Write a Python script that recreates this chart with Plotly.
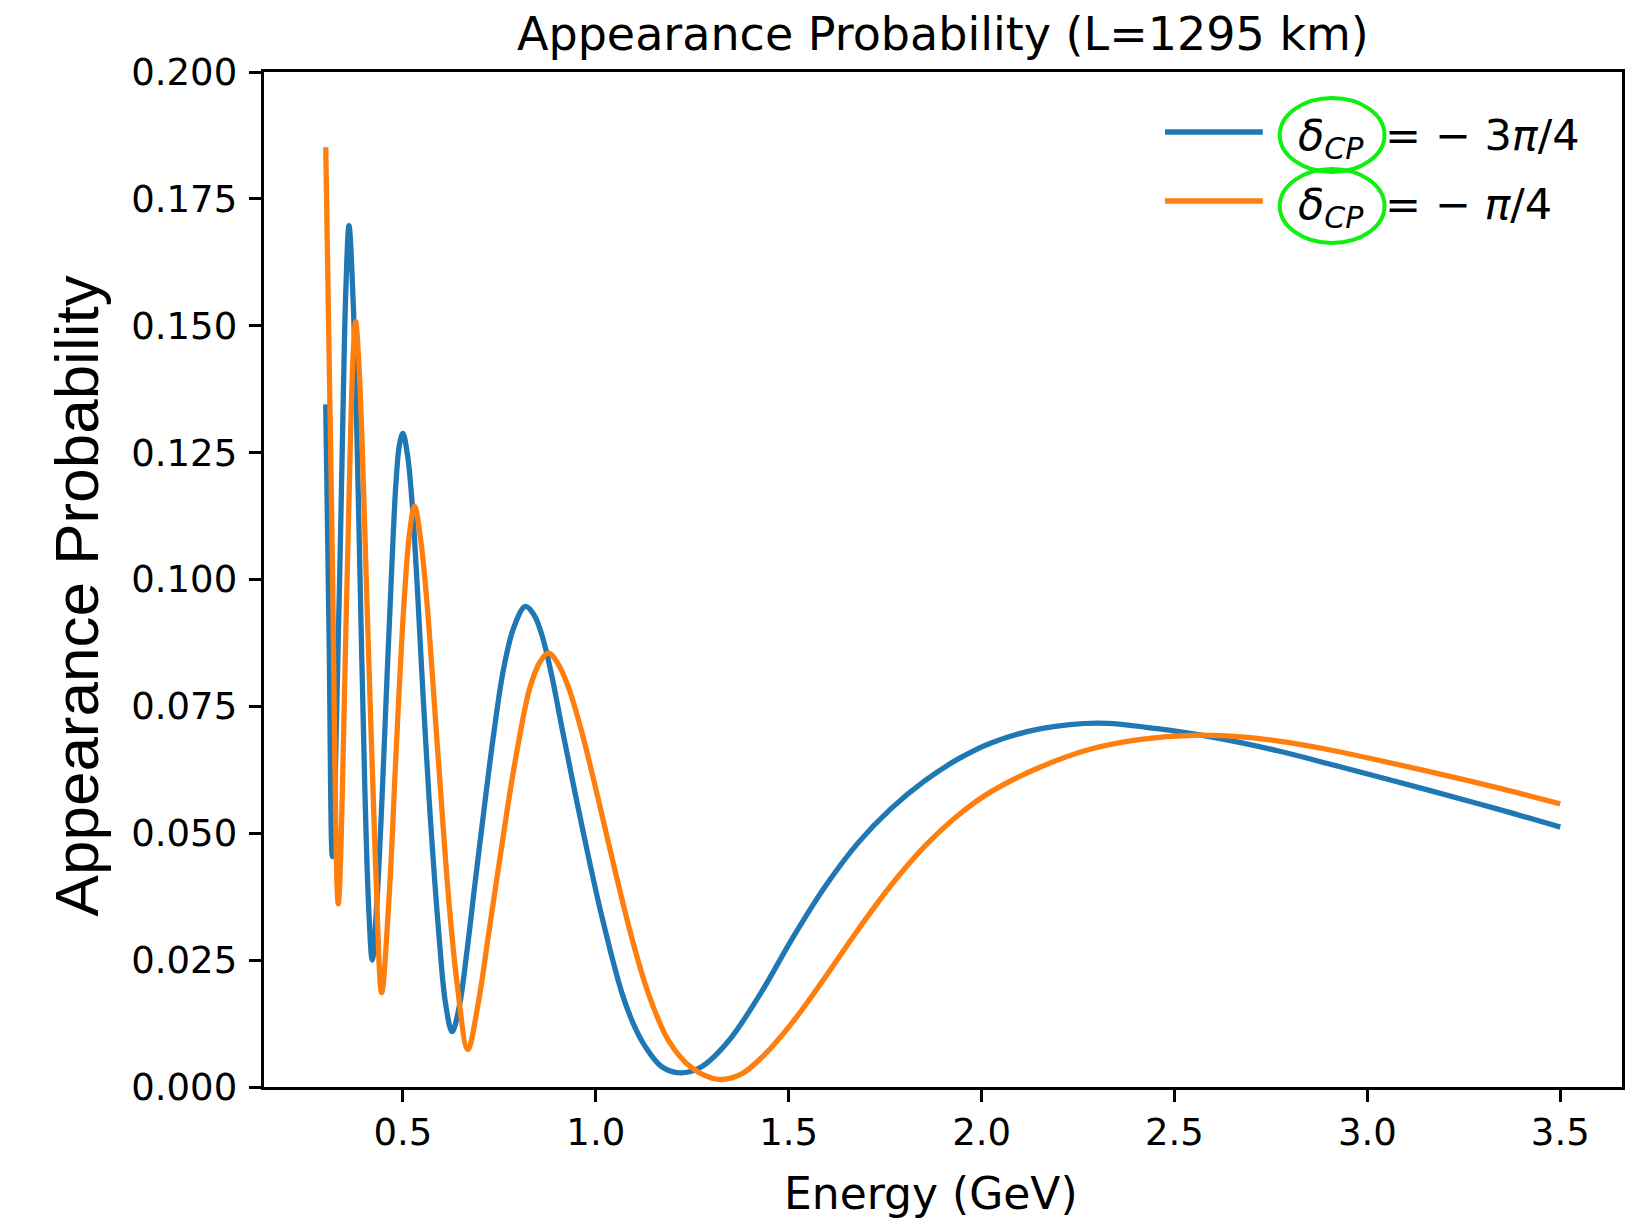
import plotly.graph_objects as go

# ---- data ----
energy_blue = [0.300, 0.3085, 0.317, 0.335, 0.3456, 0.3517, 0.3603, 0.371, 0.381,
               0.391, 0.401, 0.411, 0.4206, 0.433, 0.446, 0.459, 0.471, 0.482, 0.491,
               0.500, 0.512, 0.524, 0.537, 0.551, 0.5673, 0.5931, 0.6105, 0.6276,
               0.6465, 0.6665, 0.686, 0.7052, 0.7354, 0.7613, 0.7872, 0.8174, 0.840,
               0.8605, 0.886, 0.9122, 0.9639, 1.0157, 1.0674, 1.0977, 1.128, 1.171,
               1.2185, 1.2744, 1.3435, 1.43, 1.5073, 1.5936, 1.6798, 1.766, 1.8524,
               1.9386, 2.0247, 2.154, 2.3008, 2.456, 2.6286, 2.77, 2.904, 3.163, 3.336, 3.5]
prob_blue = [0.1345, 0.090, 0.0454, 0.0967, 0.1362, 0.156, 0.1697, 0.155, 0.128,
             0.093, 0.060, 0.036, 0.025, 0.037, 0.057, 0.081, 0.102, 0.119, 0.1265,
             0.1288, 0.1245, 0.1150, 0.0990, 0.0790, 0.0575, 0.0303, 0.0165, 0.0109,
             0.0160, 0.0270, 0.0395, 0.0515, 0.0696, 0.0825, 0.0905, 0.0947, 0.0930,
             0.0890, 0.0810, 0.0708, 0.0515, 0.0336, 0.0186, 0.0124, 0.0080, 0.0040,
             0.0028, 0.0040, 0.0090, 0.0188, 0.0290, 0.0394, 0.0481, 0.0549, 0.0603,
             0.0646, 0.0678, 0.0706, 0.0717, 0.0706, 0.0685, 0.0662, 0.0636, 0.0584, 0.0548, 0.0512]

energy_orange = [0.300, 0.316, 0.3326, 0.3543, 0.3647, 0.371, 0.3776, 0.3845, 0.3931,
                 0.4064, 0.418, 0.4294, 0.4449, 0.4638, 0.483, 0.5026, 0.517, 0.5302,
                 0.545, 0.561, 0.5931, 0.619, 0.6405, 0.6682, 0.6966, 0.7225, 0.7613,
                 0.7816, 0.8019, 0.8162, 0.8304, 0.855, 0.8777, 0.905, 0.9295, 0.9639,
                 1.0071, 1.0503, 1.0933, 1.1365, 1.1882, 1.2485, 1.3176, 1.3779, 1.435,
                 1.5073, 1.5936, 1.6798, 1.766, 1.8524, 1.9386, 2.0247, 2.154, 2.2835,
                 2.4128, 2.551, 2.6716, 2.7665, 2.904, 3.163, 3.336, 3.5]
prob_orange = [0.1852, 0.110, 0.0361, 0.0967, 0.1296, 0.1440, 0.1508, 0.1445, 0.1296,
               0.0967, 0.0690, 0.0434, 0.0186, 0.0368, 0.0670, 0.0950, 0.1090, 0.1145,
               0.1085, 0.0967, 0.0632, 0.0368, 0.0204, 0.0074, 0.0171, 0.0303, 0.0500,
               0.0600, 0.0688, 0.0745, 0.0790, 0.0837, 0.0855, 0.0830, 0.0787, 0.0699,
               0.0565, 0.0425, 0.0294, 0.0184, 0.0092, 0.0038, 0.0015, 0.0026, 0.0062,
               0.0125, 0.0215, 0.0310, 0.0398, 0.0474, 0.0535, 0.0582, 0.0631, 0.0666,
               0.0685, 0.0693, 0.0690, 0.0682, 0.0664, 0.0621, 0.0590, 0.0558]

x_ticks = [0.5, 1.0, 1.5, 2.0, 2.5, 3.0, 3.5]
y_ticks = [0.0, 0.025, 0.05, 0.075, 0.1, 0.125, 0.15, 0.175, 0.2]
series_labels = ["<i>δ</i><sub><i>CP</i></sub>\u2002= − 3<i>π</i>/4",
                 "<i>δ</i><sub><i>CP</i></sub>\u2002= − <i>π</i>/4"]
colors = ["#1f77b4", "#ff7f0e"]

# ---- layout geometry (pixels) ----
W, H = 1634, 1223
L, R, T, B = 264, 1625, 72, 1087


def px_x(px):
    return (px - L) / (R - L)


def px_y(py):
    return (B - py) / (B - T)


fig = go.Figure()
fig.add_trace(go.Scatter(x=energy_blue, y=prob_blue, mode="lines",
                         line=dict(color=colors[0], width=5.3, shape="spline", smoothing=1.0),
                         name="blue", showlegend=False))
fig.add_trace(go.Scatter(x=energy_orange, y=prob_orange, mode="lines",
                         line=dict(color=colors[1], width=5.3, shape="spline", smoothing=1.0),
                         name="orange", showlegend=False))

axis_common = dict(showline=True, linecolor="black", linewidth=2.8, mirror=True,
                   ticks="outside", ticklen=12.5, tickwidth=2.8, tickcolor="black",
                   showgrid=False, zeroline=False,
                   tickfont=dict(family="DejaVu Sans", size=37, color="black"))

fig.update_layout(
    width=W, height=H,
    margin=dict(l=L, r=W - R, t=T, b=H - B),
    paper_bgcolor="white", plot_bgcolor="white",
    xaxis=dict(range=[0.14, 3.66], tickvals=x_ticks, tickformat=".1f",
               ticklabelstandoff=-2, **axis_common),
    yaxis=dict(range=[0, 0.2], tickvals=y_ticks, tickformat=".3f",
               ticklabelstandoff=4, **axis_common),
    showlegend=False,
)

annotations = [
    dict(text="Appearance Probability (L=1295 km)", x=px_x(944), y=px_y(34),
         xref="paper", yref="paper", xanchor="center", yanchor="middle", showarrow=False,
         font=dict(family="DejaVu Sans", size=46, color="black")),
    dict(text="Energy (GeV)", x=px_x(932), y=px_y(1193),
         xref="paper", yref="paper", xanchor="center", yanchor="middle", showarrow=False,
         font=dict(family="DejaVu Sans", size=44, color="black")),
    dict(text="Appearance Probability", x=px_x(76), y=px_y(596), textangle=-90,
         xref="paper", yref="paper", xanchor="center", yanchor="middle", showarrow=False,
         font=dict(family="Liberation Sans", size=62, color="black")),
]

shapes = []
legend_rows = [132, 201]
for lbl, col, yrow in zip(series_labels, colors, legend_rows):
    shapes.append(dict(type="line", xref="paper", yref="paper",
                       x0=px_x(1167), x1=px_x(1265), y0=px_y(yrow), y1=px_y(yrow),
                       line=dict(color=col, width=5.3)))
    annotations.append(dict(text=lbl, x=px_x(1298), y=px_y(yrow + 6),
                            xref="paper", yref="paper", xanchor="left", yanchor="middle",
                            showarrow=False,
                            font=dict(family="DejaVu Sans", size=43, color="black")))

# green highlight ellipses
for yc in [135, 206]:
    shapes.append(dict(type="circle", xref="paper", yref="paper",
                       x0=px_x(1282), x1=px_x(1387), y0=px_y(yc + 37), y1=px_y(yc - 37),
                       line=dict(color="#0ef00e", width=4)))

fig.update_layout(annotations=annotations, shapes=shapes)
fig.write_html("out.html")
